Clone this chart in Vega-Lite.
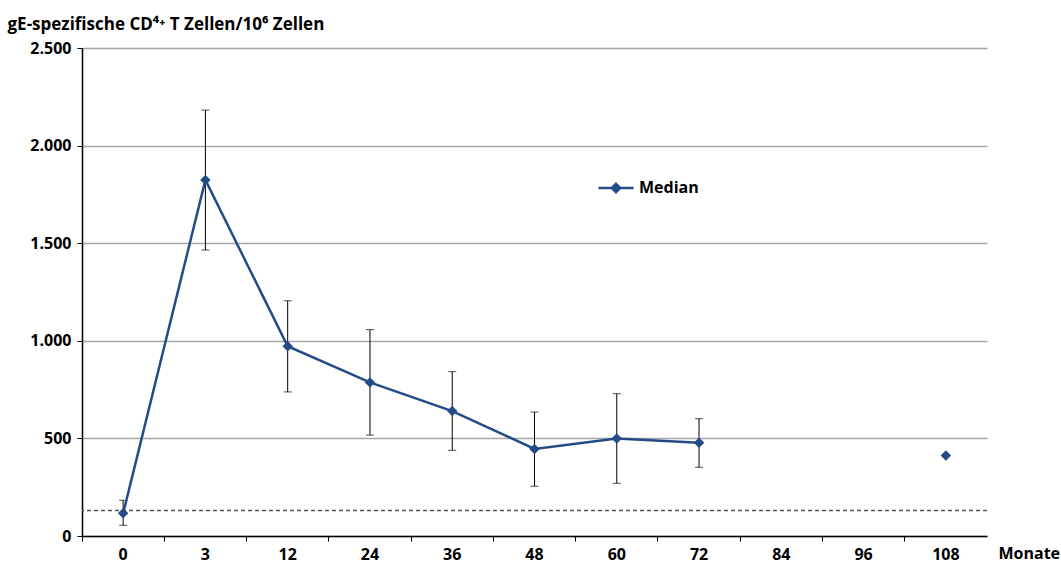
{
  "$schema": "https://vega.github.io/schema/vega-lite/v6.json",
  "width": 905,
  "height": 488,
  "autosize": {"type": "none"},
  "padding": {"left": 82, "top": 48, "right": 74, "bottom": 32},
  "background": "white",
  "config": {
    "locale": {"number": {"decimal": ",", "thousands": ".", "grouping": [3], "currency": ["", " €"]}},
    "view": {"stroke": null},
    "font": "Open Sans"
  },
  "data": {
    "values": [
      {"monat": "0", "median": 116, "lo": 55, "hi": 183},
      {"monat": "3", "median": 1824, "lo": 1465, "hi": 2182},
      {"monat": "12", "median": 972, "lo": 738, "hi": 1205},
      {"monat": "24", "median": 787, "lo": 517, "hi": 1057},
      {"monat": "36", "median": 640, "lo": 439, "hi": 842},
      {"monat": "48", "median": 446, "lo": 255, "hi": 635},
      {"monat": "60", "median": 500, "lo": 270, "hi": 729},
      {"monat": "72", "median": 478, "lo": 352, "hi": 601},
      {"monat": "84", "median": null, "lo": null, "hi": null},
      {"monat": "96", "median": null, "lo": null, "hi": null},
      {"monat": "108", "median": 413, "lo": null, "hi": null}
    ]
  },
  "layer": [
    {
      "data": {"values": [{"grenze": 130}]},
      "mark": {"type": "rule", "stroke": "#555555", "strokeWidth": 1.5, "strokeDash": [4, 3]},
      "encoding": {
        "y": {
          "field": "grenze", "type": "quantitative",
          "title": "gE-spezifische CD⁴⁺ T Zellen/10⁶ Zellen",
          "scale": {"domain": [0, 2500], "nice": false, "zero": true},
          "axis": {
            "values": [0, 500, 1000, 1500, 2000, 2500],
            "format": ",.0f",
            "labelFontWeight": "bold",
            "labelFontSize": 16,
            "labelColor": "black",
            "labelPadding": 6,
            "tickSize": 5,
            "tickColor": "black",
            "tickWidth": 1,
            "domainColor": "black",
            "domainWidth": 1.5,
            "grid": true,
            "gridColor": "#a6a6a6",
            "gridWidth": 1.5,
            "titleAngle": 0,
            "titleX": -75,
            "titleY": -19,
            "titleAlign": "left",
            "titleBaseline": "alphabetic",
            "titleFontSize": 17,
            "titleFontWeight": "bold",
            "titleColor": "black"
          }
        }
      }
    },
    {
      "mark": {"type": "rule", "stroke": "black", "strokeWidth": 1},
      "encoding": {
        "x": {
          "field": "monat", "type": "ordinal", "sort": null,
          "scale": {"domain": ["0", "3", "12", "24", "36", "48", "60", "72", "84", "96", "108"], "paddingInner": 0, "paddingOuter": 0},
          "axis": {
            "title": "Monate",
            "labelAngle": 0,
            "labelFontWeight": "bold",
            "labelFontSize": 16,
            "labelColor": "black",
            "labelPadding": 5,
            "bandPosition": 0,
            "tickExtra": true,
            "tickSize": 5,
            "tickColor": "black",
            "domainColor": "black",
            "domainWidth": 1.5,
            "grid": false,
            "titleX": 916,
            "titleY": 22,
            "titleAlign": "left",
            "titleBaseline": "alphabetic",
            "titleFontSize": 16,
            "titleFontWeight": "bold",
            "titleColor": "black"
          }
        },
        "y": {"field": "lo", "type": "quantitative", "title": "gE-spezifische CD⁴⁺ T Zellen/10⁶ Zellen"},
        "y2": {"field": "hi"}
      }
    },
    {
      "mark": {"type": "tick", "color": "black", "size": 8, "thickness": 1},
      "encoding": {
        "x": {"field": "monat", "type": "ordinal", "sort": null},
        "y": {"field": "hi", "type": "quantitative", "title": "gE-spezifische CD⁴⁺ T Zellen/10⁶ Zellen"}
      }
    },
    {
      "mark": {"type": "tick", "color": "black", "size": 8, "thickness": 1},
      "encoding": {
        "x": {"field": "monat", "type": "ordinal", "sort": null},
        "y": {"field": "lo", "type": "quantitative", "title": "gE-spezifische CD⁴⁺ T Zellen/10⁶ Zellen"}
      }
    },
    {
      "mark": {"type": "line", "strokeWidth": 2.5},
      "encoding": {
        "x": {"field": "monat", "type": "ordinal", "sort": null},
        "y": {"field": "median", "type": "quantitative", "title": "gE-spezifische CD⁴⁺ T Zellen/10⁶ Zellen"},
        "color": {
          "datum": "Median",
          "scale": {"range": ["#234c87"]},
          "legend": {
            "title": null,
            "orient": "none",
            "legendX": 515,
            "legendY": 121,
            "padding": 0,
            "symbolType": "M-1,0L1,0M0,-0.24L0.24,0L0,0.24L-0.24,0Z",
            "symbolSize": 1225,
            "symbolStrokeWidth": 2.5,
            "symbolStrokeColor": "#234c87",
            "symbolFillColor": "#234c87",
            "labelFontSize": 16,
            "labelFontWeight": "bold",
            "labelColor": "black",
            "labelOffset": 4,
            "encode": {"symbols": {"update": {"fill": {"value": "#234c87"}, "stroke": {"value": "#234c87"}}}}
          }
        }
      }
    },
    {
      "mark": {"type": "point", "shape": "diamond", "filled": true, "size": 110, "opacity": 1, "color": "#234c87"},
      "encoding": {
        "x": {"field": "monat", "type": "ordinal", "sort": null},
        "y": {"field": "median", "type": "quantitative", "title": "gE-spezifische CD⁴⁺ T Zellen/10⁶ Zellen"}
      }
    }
  ]
}
